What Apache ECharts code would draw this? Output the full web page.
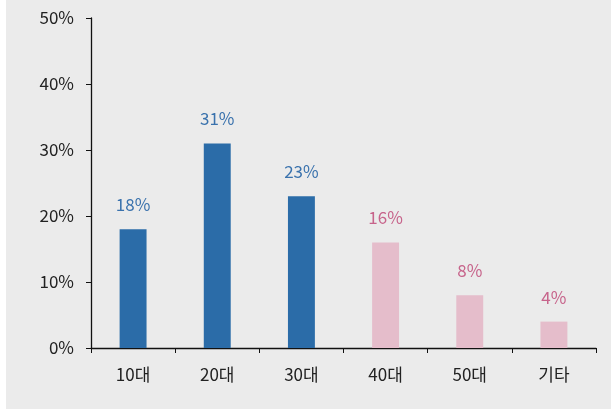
<!DOCTYPE html>
<html><head><meta charset="utf-8">
<script src="https://cdn.jsdelivr.net/npm/echarts@6/dist/echarts.min.js"></script>
<style>
html,body{margin:0;padding:0;background:#ffffff;}
#c{position:absolute;left:6px;top:0;width:605px;height:409px;background:#ebebeb;}
</style></head><body>
<div id="c"></div>
<script>
const categories = ['10대','20대','30대','40대','50대','기타'];
const values = [18,31,23,16,8,4];
const barColors = ['#2b6ca8','#2b6ca8','#2b6ca8','#e5bdcb','#e5bdcb','#e5bdcb'];
const labelColors = ['#3a72ad','#3a72ad','#3a72ad','#c7648b','#c7648b','#c7648b'];
const yTicks = [0,10,20,30,40,50];

const chart = echarts.init(document.getElementById('c'));
const font = '"Noto Sans CJK KR", "Noto Sans", sans-serif';
chart.setOption({
  animation:false,
  grid:{left:85, right:15, top:18, bottom:61},
  xAxis:{type:'category', data:categories,
    axisLine:{lineStyle:{color:'#111', width:1.3}},
    axisTick:{show:true, length:5, lineStyle:{color:'#111'}},
    axisLabel:{color:'#222', fontSize:17, fontFamily:font, margin:18}},
  yAxis:{type:'value', min:0, max:50, interval:10,
    splitLine:{show:false},
    axisLine:{show:true, lineStyle:{color:'#111', width:1.3}},
    axisTick:{show:true, length:5, lineStyle:{color:'#111'}},
    axisLabel:{color:'#222', fontSize:17, fontFamily:font, margin:17,
      formatter: v => yTicks.includes(v) ? v + '%' : ''}},
  series:[{type:'bar', barWidth:'32%',
    data: values.map((v,i)=>({value:v, itemStyle:{color:barColors[i]},
      label:{color:labelColors[i]}})),
    label:{show:true, position:'top', distance:16, fontSize:17, fontFamily:font,
      formatter: p => p.value + '%'}}]
});
</script></body></html>
